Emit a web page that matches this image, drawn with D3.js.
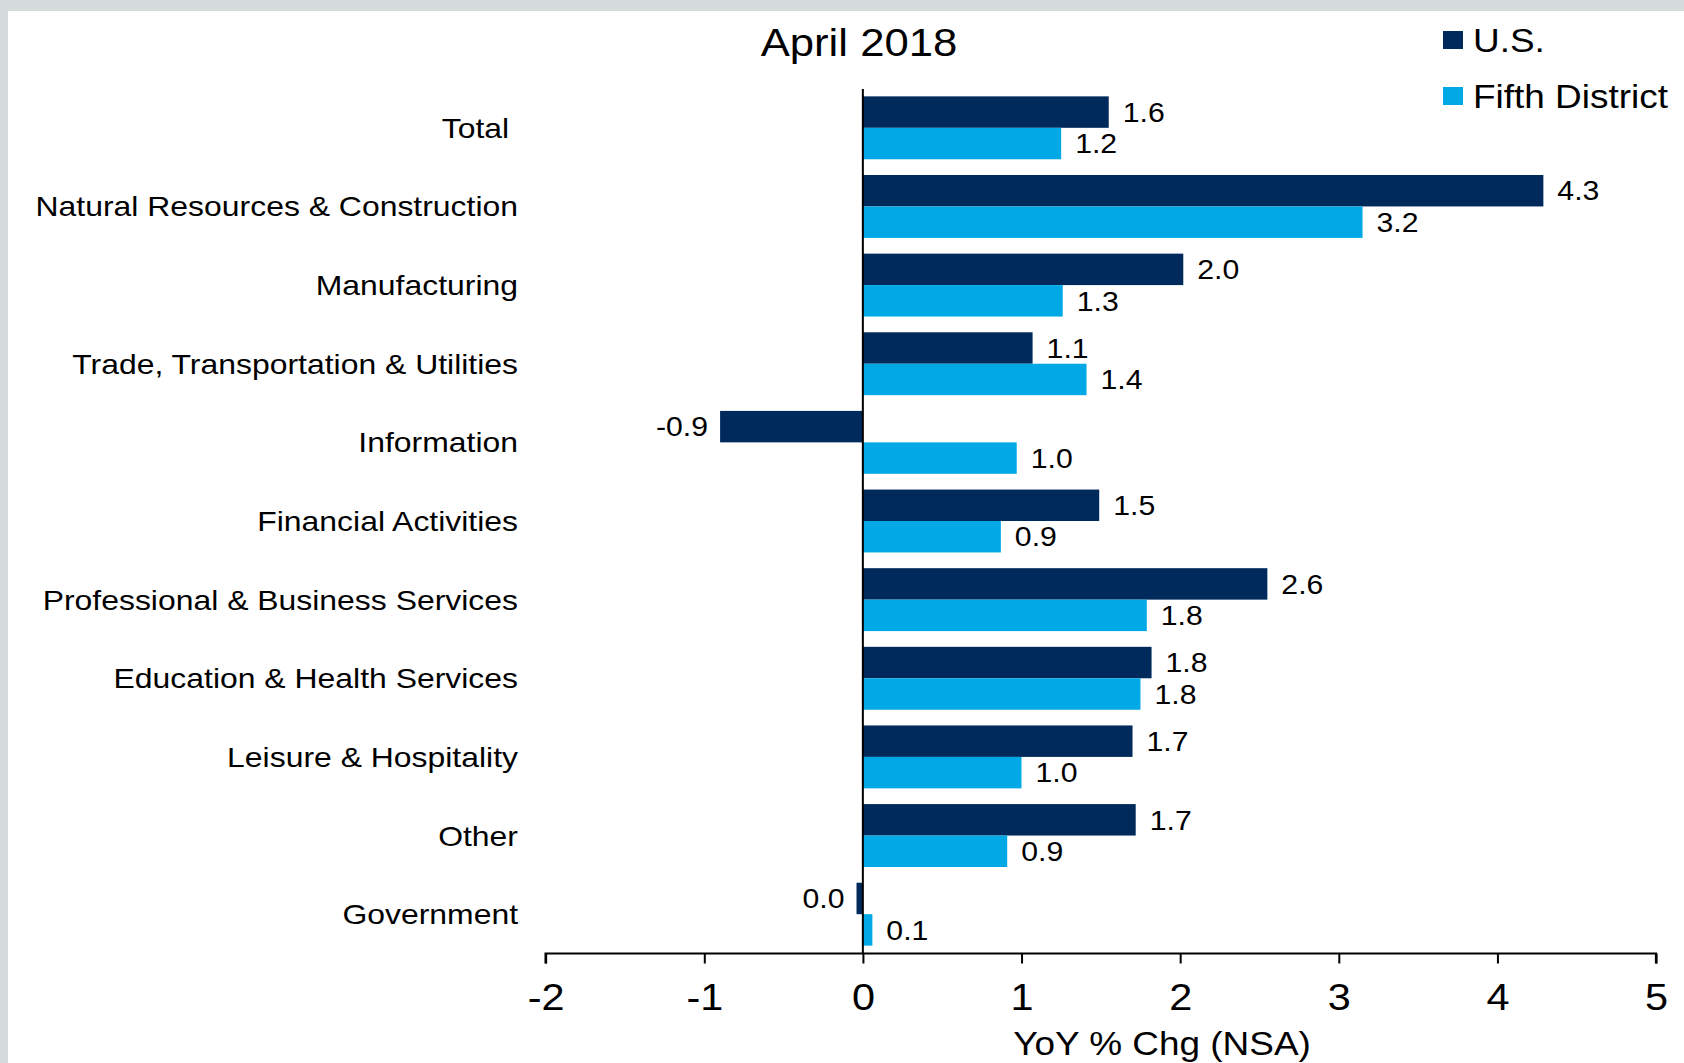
<!DOCTYPE html>
<html>
<head>
<meta charset="utf-8">
<script src="https://cdn.jsdelivr.net/npm/d3@7"></script>
<style>
  html, body { margin: 0; padding: 0; background: #fff; }
  svg { display: block; }
  text { font-family: "Liberation Sans", Arial, sans-serif; fill: #000; }
  text.cat { white-space: pre; }
</style>
</head>
<body>
<div id="chart"></div>
<script>
const categories = [
  'Total ', 'Natural Resources & Construction', 'Manufacturing',
  'Trade, Transportation & Utilities', 'Information', 'Financial Activities',
  'Professional & Business Services', 'Education & Health Services',
  'Leisure & Hospitality', 'Other', 'Government'
];
const usValues = [1.55, 4.29, 2.02, 1.07, -0.90, 1.49, 2.55, 1.82, 1.70, 1.72, -0.04];
const fifthValues = [1.25, 3.15, 1.26, 1.41, 0.97, 0.87, 1.79, 1.75, 1.00, 0.91, 0.06];
const usLabels = ['1.6', '4.3', '2.0', '1.1', '-0.9', '1.5', '2.6', '1.8', '1.7', '1.7', '0.0'];
const fifthLabels = ['1.2', '3.2', '1.3', '1.4', '1.0', '0.9', '1.8', '1.8', '1.0', '0.9', '0.1'];
const seriesNames = ['U.S.', 'Fifth District'];
const xTicks = [-2, -1, 0, 1, 2, 3, 4, 5];

const W = 1684, H = 1063;
// the original picture is stretched horizontally, so draw in a narrower
// coordinate system and let the viewBox widen it
const sx = 1.12;
const X = v => v / sx;

const colors = ['#002a5c', '#00a9e6'];

const svg = d3.select('#chart').append('svg')
  .attr('width', W).attr('height', H)
  .attr('viewBox', `0 0 ${W / sx} ${H}`)
  .attr('preserveAspectRatio', 'none');

// grey frame
svg.append('rect').attr('x', 0).attr('y', 0).attr('width', W / sx).attr('height', 11).attr('fill', '#d6dcdc');
svg.append('rect').attr('x', 0).attr('y', 0).attr('width', X(8)).attr('height', H).attr('fill', '#d6dcdc');

const x = d3.scaleLinear().domain([-2, 5]).range([X(545.6), X(1656)]);
const y = d3.scaleBand().domain(categories).range([88.5, 953.5])
  .paddingInner(0.2).paddingOuter(0.1);
const ySub = d3.scaleBand().domain(seriesNames).range([0, y.bandwidth()]);

const rows = categories.map((c, i) => ({
  cat: c,
  bars: [
    { s: seriesNames[0], v: usValues[i], label: usLabels[i] },
    { s: seriesNames[1], v: fifthValues[i], label: fifthLabels[i] }
  ]
}));

const g = svg.selectAll('g.row').data(rows).join('g')
  .attr('class', 'row')
  .attr('transform', d => `translate(0,${y(d.cat)})`);

g.selectAll('rect').data(d => d.bars).join('rect')
  .attr('x', d => x(Math.min(0, d.v)))
  .attr('width', d => Math.abs(x(d.v) - x(0)))
  .attr('y', d => ySub(d.s))
  .attr('height', ySub.bandwidth())
  .attr('fill', (d, i) => colors[i]);

g.selectAll('text.val').data(d => d.bars).join('text')
  .attr('class', 'val')
  .attr('x', d => d.v < 0 ? x(d.v) - X(12) : x(d.v) + X(14))
  .attr('y', d => ySub(d.s) + ySub.bandwidth() / 2)
  .attr('dy', '0.36em')
  .attr('text-anchor', d => d.v < 0 ? 'end' : 'start')
  .attr('font-size', 27)
  .text(d => d.label);

// category labels
svg.selectAll('text.cat').data(categories).join('text')
  .attr('class', 'cat')
  .attr('x', X(518))
  .attr('y', d => y(d) + y.bandwidth() / 2)
  .attr('dy', '0.35em')
  .attr('text-anchor', 'end')
  .attr('font-size', 28.5)
  .text(d => d);

// zero line
svg.append('line')
  .attr('x1', x(0)).attr('x2', x(0))
  .attr('y1', 89).attr('y2', 953.5)
  .attr('stroke', '#000').attr('stroke-width', 2 / sx);

// x axis
const xAxis = svg.append('g')
  .attr('transform', 'translate(0,953.5)')
  .call(d3.axisBottom(x).tickValues(xTicks).tickSize(10).tickPadding(20).tickFormat(d3.format('d')));
xAxis.select('.domain').attr('stroke', '#000').attr('stroke-width', 2)
  .attr('d', `M${x(-2)},10V0H${x(5)}V10`);
xAxis.selectAll('.tick line').attr('stroke', '#000').attr('stroke-width', 2 / sx);
xAxis.selectAll('.tick text')
  .attr('font-size', 37)
  .attr('font-family', '"Liberation Sans", Arial, sans-serif')
  .attr('fill', '#000')
  .text(d => d < 0 ? '-' + Math.abs(d) : d);

svg.append('text')
  .attr('x', X(1162)).attr('y', 1055)
  .attr('text-anchor', 'middle')
  .attr('font-size', 33)
  .text('YoY % Chg (NSA)');

// title
svg.append('text')
  .attr('x', X(859)).attr('y', 56)
  .attr('text-anchor', 'middle')
  .attr('font-size', 39)
  .text('April 2018');

// legend
const lg = svg.selectAll('g.legend').data(seriesNames).join('g')
  .attr('class', 'legend')
  .attr('transform', (d, i) => `translate(${X(1443)},${31 + i * 56})`);
lg.append('rect').attr('width', X(20)).attr('height', 18).attr('fill', (d, i) => colors[i]);
lg.append('text').attr('x', X(30)).attr('y', 21).attr('font-size', 33).text(d => d);
</script>
</body>
</html>
